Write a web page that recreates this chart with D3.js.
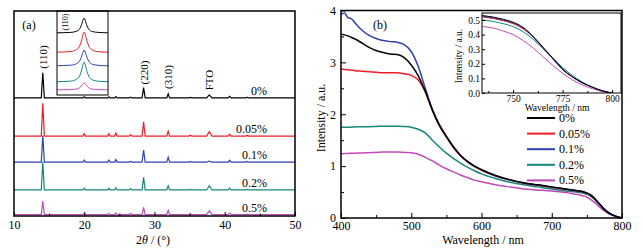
<!DOCTYPE html>
<html lang="en">
<head>
<meta charset="utf-8">
<title>XRD and absorption</title>
<script src="https://d3js.org/d3.v7.min.js"></script>
<style>
  body { margin: 0; background: #fff; }
  svg text { font-family: "Liberation Serif", "Times New Roman", serif; fill: #000; }
  .axis path { display: none; }
  .axis line { stroke: #000; stroke-width: 1; }
</style>
</head>
<body>
<script>
    // sample names + colours (legend order)
    var samples = ["0%", "0.05%", "0.1%", "0.2%", "0.5%"];
    var colors = ["#000000", "#f01c24", "#3040b0", "#13887e", "#c448b8"];

    //----- panel (a): XRD peaks -----
    var peakPos  = [14.1, 20.0, 23.5, 24.5, 26.6, 28.45, 31.95, 35.1, 37.8, 40.7, 43.2];
    var peakHalf = [0.22, 0.18, 0.18, 0.18, 0.2, 0.22, 0.2, 0.2, 0.38, 0.22, 0.2];
    var xrd0    = [12.2, 0.5, 0.5, 0.6, 0.4, 5.0, 2.0, 0.3, 1.5, 0.8, 0.3];
    var xrd005  = [16.0, 1.1, 1.1, 1.5, 0.7, 7.0, 2.4, 0.4, 2.1, 0.9, 0.3];
    var xrd01   = [13.0, 1.0, 1.0, 1.2, 0.3, 5.8, 2.3, 0.3, 0.5, 0.9, 0.3];
    var xrd02   = [13.7, 0.9, 0.8, 1.1, 0.7, 6.2, 2.0, 0.3, 2.0, 0.9, 0.3];
    var xrd05   = [6.6, 0.6, 0.6, 0.8, 0.5, 3.5, 2.0, 0.3, 1.8, 0.7, 0.2];
    var xrdOffset = [57.6, 39, 26.3, 12.7, 0.7];
    var xrdTicks = [10, 20, 30, 40, 50];
    var xrdMinor = [15, 25, 35, 45];
    var peakLabels = ["(110)", "(220)", "(310)", "FTO"];
    var peakLabelPos = [14.1, 28.45, 31.95, 37.8];

    // inset of (a): zoom on the (110) reflection
    var insTheta = [13.45, 13.8, 13.95, 14.03, 14.08, 14.12, 14.14, 14.16, 14.2, 14.26, 14.35, 14.5, 14.75];
    var ins0   = [0.2, 0.6, 1.8, 4.4, 8.7, 13.8, 15, 13.8, 8.7, 3.8, 1.5, 0.6, 0.2];
    var ins005 = [0.3, 1.0, 3.0, 6.8, 12.5, 19, 20.5, 19.5, 13.5, 6.5, 2.5, 0.9, 0.3];
    var ins01  = [0.3, 0.8, 2.4, 5.2, 9.8, 14.8, 16, 15, 10.2, 4.8, 1.8, 0.7, 0.2];
    var ins02  = [0.3, 0.9, 2.8, 6.4, 12, 18.5, 20, 18.8, 12.6, 5.8, 2.2, 0.8, 0.3];
    var ins05  = [0.2, 0.4, 1.1, 2.3, 4.2, 6.5, 7, 6.6, 4.5, 2.2, 0.9, 0.4, 0.1];
    var insOffset = [62, 42.5, 29, 13, 5];

    //----- panel (b): absorption spectra -----
    var wl = [400, 405, 410, 415, 420, 430, 440, 450, 460, 470, 480, 490, 500, 510, 520, 530, 540, 550, 560, 570, 580, 590,
              600, 620, 640, 660, 680, 700, 720, 735, 740, 745, 750, 755, 760, 765, 770, 775, 780, 785, 790, 795, 800];
    var abs0   = [3.54, 3.53, 3.51, 3.48, 3.45, 3.37, 3.29, 3.23, 3.19, 3.16, 3.15, 3.09, 2.95, 2.74, 2.44, 2.08, 1.79, 1.57, 1.37, 1.21, 1.09, 1.00,
                  0.93, 0.82, 0.74, 0.68, 0.64, 0.60, 0.56, 0.53, 0.52, 0.505, 0.485, 0.45, 0.39, 0.315, 0.24, 0.165, 0.11, 0.07, 0.04, 0.015, 0];
    var abs005 = [2.87, 2.865, 2.86, 2.85, 2.84, 2.83, 2.82, 2.81, 2.80, 2.80, 2.80, 2.78, 2.75, 2.66, 2.43, 2.08, 1.78, 1.56, 1.36, 1.20, 1.08, 0.99,
                  0.92, 0.81, 0.73, 0.67, 0.63, 0.59, 0.55, 0.52, 0.51, 0.495, 0.475, 0.44, 0.385, 0.31, 0.235, 0.16, 0.11, 0.07, 0.04, 0.015, 0];
    var abs01  = [3.92, 3.95, 3.86, 3.84, 3.76, 3.62, 3.52, 3.46, 3.42, 3.40, 3.39, 3.34, 3.21, 2.92, 2.50, 2.10, 1.80, 1.58, 1.38, 1.21, 1.09, 1.00,
                  0.93, 0.815, 0.735, 0.675, 0.635, 0.595, 0.555, 0.525, 0.515, 0.50, 0.48, 0.445, 0.385, 0.31, 0.235, 0.16, 0.11, 0.07, 0.04, 0.015, 0];
    var abs02  = [1.75, 1.75, 1.75, 1.752, 1.755, 1.76, 1.76, 1.765, 1.77, 1.77, 1.77, 1.765, 1.75, 1.71, 1.64, 1.50, 1.37, 1.25, 1.15, 1.06, 0.98, 0.91,
                  0.85, 0.76, 0.69, 0.64, 0.60, 0.56, 0.52, 0.50, 0.49, 0.475, 0.455, 0.42, 0.37, 0.305, 0.24, 0.175, 0.12, 0.075, 0.04, 0.015, 0];
    var abs05  = [1.24, 1.242, 1.245, 1.247, 1.25, 1.255, 1.26, 1.265, 1.27, 1.27, 1.27, 1.265, 1.26, 1.23, 1.17, 1.10, 1.02, 0.95, 0.89, 0.83, 0.78, 0.73,
                  0.70, 0.64, 0.60, 0.56, 0.54, 0.52, 0.49, 0.455, 0.445, 0.425, 0.40, 0.36, 0.31, 0.25, 0.19, 0.135, 0.09, 0.055, 0.03, 0.01, 0];
    var wlTicks = [400, 500, 600, 700, 800];
    var wlMinor = [450, 550, 650, 750];
    var intTicks = [0, 1, 2, 3, 4];
    var intMinor = [0.5, 1.5, 2.5, 3.5];
    var insWlTicks = [750, 775, 800];
    var insWlMinor = [737.5, 762.5, 787.5];
    var insIntTicks = [0, 0.1, 0.2, 0.3, 0.4, 0.5];

    var xrdSeries = [xrd0, xrd005, xrd01, xrd02, xrd05];
    var insSeries = [ins0, ins005, ins01, ins02, ins05];
    var absSeries = [abs0, abs005, abs01, abs02, abs05];

    var w = 643, h = 250;
    var svg = d3.select("body").append("svg")
        .attr("width", w)
        .attr("height", h);

    //==================== panel (a) ====================
    var xA = d3.scaleLinear().domain([10, 50]).range([14, 295]);
    var yA = d3.scaleLinear().domain([0, 100]).range([216, 11]);

    // turn a peak list into a stick-like trace
    function tracePoints(heights, off) {
        var pts = [[10, off]];
        peakPos.forEach(function(p, i) {
            pts.push([p - peakHalf[i], off]);
            pts.push([p, off + heights[i]]);
            pts.push([p + peakHalf[i], off]);
        });
        pts.push([50, off]);
        return pts;
    }

    var lineA = d3.line()
        .x(function(d) { return xA(d[0]); })
        .y(function(d) { return yA(d[1]); });

    svg.append("g").selectAll("path")
        .data(xrdSeries)
        .enter()
        .append("path")
        .attr("d", function(d, i) { return lineA(tracePoints(d, xrdOffset[i])); })
        .attr("fill", "none")
        .attr("stroke", function(d, i) { return colors[i]; })
        .attr("stroke-width", 1.2);

    // sample labels
    svg.append("g").selectAll("text")
        .data(samples)
        .enter()
        .append("text")
        .attr("x", 267)
        .attr("y", function(d, i) { return yA(xrdOffset[i]) - 7; })
        .attr("text-anchor", "end")
        .attr("dominant-baseline", "central")
        .attr("font-size", "12px")
        .text(function(d) { return d; });

    // peak labels (rotated)
    var peakLabelY = [57, 72.5, 77, 80];
    svg.append("g").selectAll("text")
        .data(peakLabels)
        .enter()
        .append("text")
        .attr("transform", function(d, i) {
            return "translate(" + xA(peakLabelPos[i]) + "," + peakLabelY[i] + ") rotate(-90)";
        })
        .attr("text-anchor", "middle")
        .attr("dominant-baseline", "central")
        .attr("font-size", "11px")
        .text(function(d) { return d; });

    svg.append("text")
        .attr("x", 29).attr("y", 25)
        .attr("text-anchor", "middle")
        .attr("dominant-baseline", "central")
        .attr("font-size", "12px")
        .text("(a)");

    // inset of (a)
    var xAi = d3.scaleLinear().domain([13.45, 14.75]).range([57, 108]);
    var yAi = d3.scaleLinear().domain([0, 84]).range([95, 11]);
    svg.append("rect")
        .attr("x", 57).attr("y", 11).attr("width", 51).attr("height", 84)
        .attr("fill", "#fff");
    var lineAi = d3.line()
        .x(function(d, i) { return xAi(insTheta[i]); })
        .curve(d3.curveMonotoneX);
    svg.append("g").selectAll("path")
        .data(insSeries)
        .enter()
        .append("path")
        .attr("d", function(d, i) {
            return lineAi.y(function(v) { return yAi(v + insOffset[i]); })(d);
        })
        .attr("fill", "none")
        .attr("stroke", function(d, i) { return colors[i]; })
        .attr("stroke-width", 1);
    svg.append("rect")
        .attr("x", 57).attr("y", 11).attr("width", 51).attr("height", 84)
        .attr("fill", "none").attr("stroke", "#000").attr("stroke-width", 1);
    svg.append("text")
        .attr("transform", "translate(65.5,22) rotate(-90)")
        .attr("text-anchor", "middle")
        .attr("dominant-baseline", "central")
        .attr("font-size", "8px")
        .text("(110)");

    // axes (a)
    svg.append("g")
        .attr("class", "axis")
        .attr("transform", "translate(0,216)")
        .call(d3.axisBottom(xA).tickValues(xrdTicks).tickSizeInner(-4).tickSizeOuter(0).tickPadding(4)
            .tickFormat(d3.format("d")))
        .selectAll("text").attr("font-size", "12px");
    svg.append("g")
        .attr("class", "axis")
        .attr("transform", "translate(0,216)")
        .call(d3.axisBottom(xA).tickValues(xrdMinor).tickSizeInner(-2.5).tickSizeOuter(0).tickFormat(""));

    svg.append("rect")
        .attr("x", 14).attr("y", 11).attr("width", 281).attr("height", 205)
        .attr("fill", "none").attr("stroke", "#000").attr("stroke-width", 1.5);

    var titleA = svg.append("text")
        .attr("x", 153).attr("y", 239.5)
        .attr("text-anchor", "middle")
        .attr("dominant-baseline", "central")
        .attr("font-size", "12px");
    titleA.append("tspan").text("2");
    titleA.append("tspan").attr("font-style", "italic").text("θ");
    titleA.append("tspan").text(" / (°)");

    //==================== panel (b) ====================
    var xB = d3.scaleLinear().domain([400, 800]).range([341, 622]);
    var yB = d3.scaleLinear().domain([0, 4]).range([218, 10.5]);

    var lineB = d3.line()
        .x(function(d, i) { return xB(wl[i]); })
        .y(function(d) { return yB(d); })
        .curve(d3.curveMonotoneX);

    var drawOrder = [4, 3, 1, 2, 0];
    svg.append("g").selectAll("path")
        .data(drawOrder)
        .enter()
        .append("path")
        .attr("d", function(k) { return lineB(absSeries[k]); })
        .attr("fill", "none")
        .attr("stroke", function(k) { return colors[k]; })
        .attr("stroke-width", 1.5);

    // axes (b)
    svg.append("g")
        .attr("class", "axis")
        .attr("transform", "translate(0,218)")
        .call(d3.axisBottom(xB).tickValues(wlTicks).tickSizeInner(-5).tickSizeOuter(0).tickPadding(3)
            .tickFormat(d3.format("d")))
        .selectAll("text").attr("font-size", "12px");
    svg.append("g")
        .attr("class", "axis")
        .attr("transform", "translate(0,218)")
        .call(d3.axisBottom(xB).tickValues(wlMinor).tickSizeInner(-3).tickSizeOuter(0).tickFormat(""));
    svg.append("g")
        .attr("class", "axis")
        .attr("transform", "translate(341,0)")
        .call(d3.axisLeft(yB).tickValues(intTicks).tickSizeInner(-5).tickSizeOuter(0).tickPadding(5)
            .tickFormat(d3.format("d")))
        .selectAll("text").attr("font-size", "12px");
    svg.append("g")
        .attr("class", "axis")
        .attr("transform", "translate(341,0)")
        .call(d3.axisLeft(yB).tickValues(intMinor).tickSizeInner(-3).tickSizeOuter(0).tickFormat(""));

    svg.append("rect")
        .attr("x", 341).attr("y", 10.5).attr("width", 281).attr("height", 207.5)
        .attr("fill", "none").attr("stroke", "#000").attr("stroke-width", 1.5);

    svg.append("text")
        .attr("x", 380).attr("y", 25)
        .attr("text-anchor", "middle")
        .attr("dominant-baseline", "central")
        .attr("font-size", "12px")
        .text("(b)");

    svg.append("text")
        .attr("x", 483).attr("y", 239.5)
        .attr("text-anchor", "middle")
        .attr("dominant-baseline", "central")
        .attr("font-size", "12px")
        .text("Wavelength / nm");
    svg.append("text")
        .attr("transform", "translate(321,118) rotate(-90)")
        .attr("text-anchor", "middle")
        .attr("dominant-baseline", "central")
        .attr("font-size", "12px")
        .text("Intensity / a.u.");

    // legend
    var legend = svg.append("g").selectAll("g")
        .data(samples)
        .enter()
        .append("g")
        .attr("transform", function(d, i) { return "translate(0," + (118 + i * 15.6) + ")"; });
    legend.append("line")
        .attr("x1", 527).attr("x2", 555)
        .attr("stroke", function(d, i) { return colors[i]; })
        .attr("stroke-width", 2);
    legend.append("text")
        .attr("x", 559)
        .attr("dominant-baseline", "central")
        .attr("font-size", "12px")
        .text(function(d) { return d; });

    // inset of (b)
    var xBi = d3.scaleLinear().domain([734.3, 804.5]).range([482, 621]);
    var yBi = d3.scaleLinear().domain([0, 0.548]).range([93, 13]);
    svg.append("rect")
        .attr("x", 482).attr("y", 13).attr("width", 139).attr("height", 80)
        .attr("fill", "#fff");
    svg.append("clipPath").attr("id", "insClip")
        .append("rect")
        .attr("x", 482).attr("y", 13).attr("width", 139).attr("height", 80);
    var lineBi = d3.line()
        .x(function(d, i) { return xBi(wl[i]); })
        .y(function(d) { return yBi(d); })
        .defined(function(d, i) { return wl[i] >= 720; })
        .curve(d3.curveMonotoneX);
    svg.append("g")
        .attr("clip-path", "url(#insClip)")
        .selectAll("path")
        .data(drawOrder)
        .enter()
        .append("path")
        .attr("d", function(k) { return lineBi(absSeries[k]); })
        .attr("fill", "none")
        .attr("stroke", function(k) { return colors[k]; })
        .attr("stroke-width", 1);

    var insX = svg.append("g")
        .attr("class", "axis")
        .attr("transform", "translate(0,93)")
        .call(d3.axisBottom(xBi).tickValues(insWlTicks).tickSizeInner(-3).tickSizeOuter(0).tickPadding(2)
            .tickFormat(d3.format("d")));
    insX.selectAll("text").attr("font-size", "9.5px");
    svg.append("g")
        .attr("class", "axis")
        .attr("transform", "translate(0,93)")
        .call(d3.axisBottom(xBi).tickValues(insWlMinor).tickSizeInner(-2).tickSizeOuter(0).tickFormat(""));
    var insY = svg.append("g")
        .attr("class", "axis")
        .attr("transform", "translate(482,0)")
        .call(d3.axisLeft(yBi).tickValues(insIntTicks).tickSizeInner(-3).tickSizeOuter(0).tickPadding(2)
            .tickFormat(d3.format(".1f")));
    insY.selectAll("text").attr("font-size", "9.5px");

    svg.append("rect")
        .attr("x", 482).attr("y", 13).attr("width", 139).attr("height", 80)
        .attr("fill", "none").attr("stroke", "#000").attr("stroke-width", 1);

    svg.append("text")
        .attr("x", 557).attr("y", 107.5)
        .attr("text-anchor", "middle")
        .attr("dominant-baseline", "central")
        .attr("font-size", "9.5px")
        .text("Wavelength / nm");
    svg.append("text")
        .attr("transform", "translate(459,56) rotate(-90)")
        .attr("text-anchor", "middle")
        .attr("dominant-baseline", "central")
        .attr("font-size", "9.5px")
        .text("Intensity / a.u.");
</script>
</body>
</html>
